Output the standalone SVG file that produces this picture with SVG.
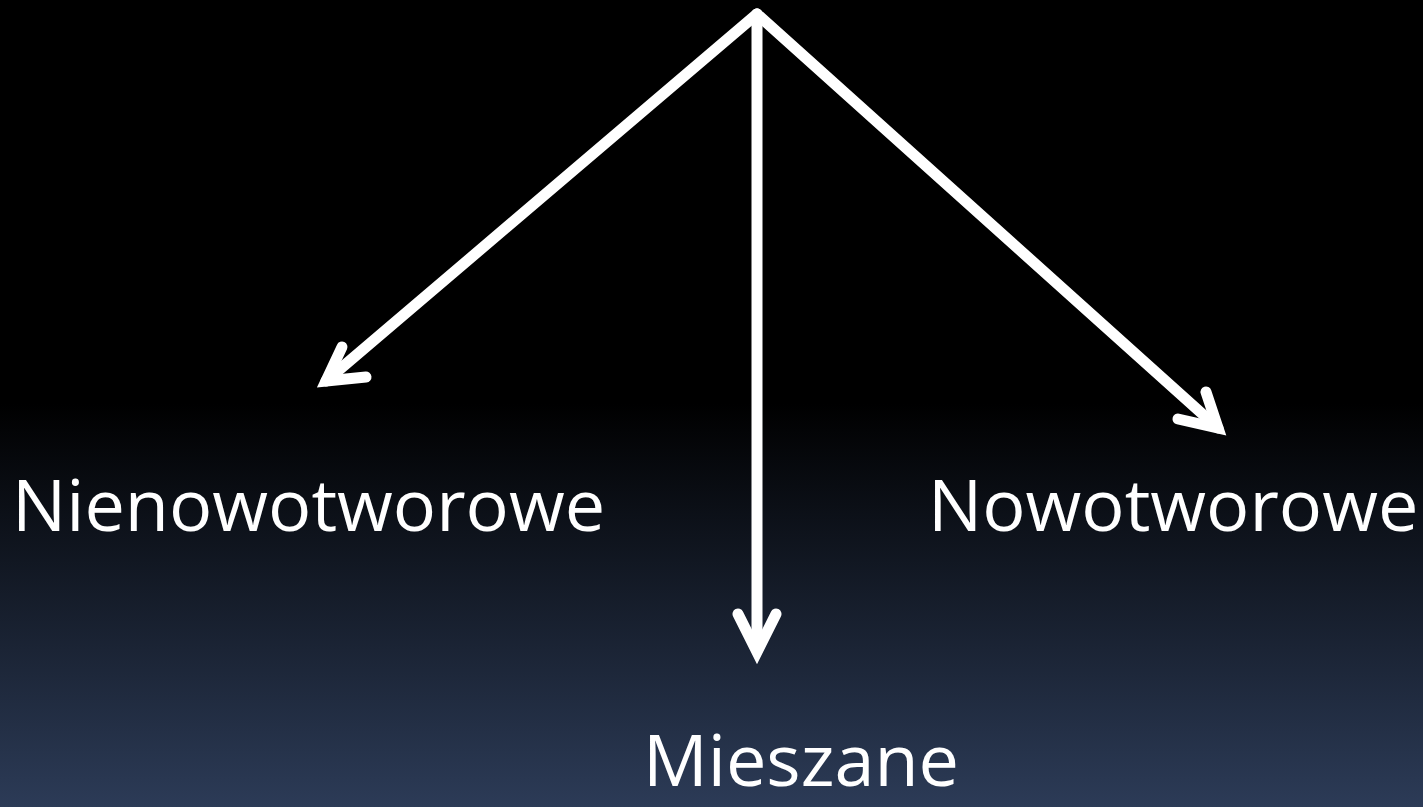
<svg xmlns="http://www.w3.org/2000/svg" width="1423" height="807" viewBox="0 0 1423 807">
<defs>
<linearGradient id="bg" x1="0" y1="0" x2="0" y2="1">
<stop offset="0" stop-color="#000000"/>
<stop offset="0.5" stop-color="#000000"/>
<stop offset="1" stop-color="#2c3b57"/>
</linearGradient>
<style>
.arrow{fill:none;stroke:#ffffff;stroke-width:11;stroke-linecap:round;stroke-linejoin:miter;stroke-miterlimit:10}
.lbl{font-family:"Open Sans","Noto Sans",sans-serif;font-size:72px;fill:#ffffff}
</style>
</defs>
<rect x="0" y="0" width="1423" height="807" fill="url(#bg)"/>
<g id="connectors">
<path class="arrow" d="M757,14 L326,381"/>
<path class="arrow" d="M342,347 L326,381 L366,377"/>
<path class="arrow" d="M757,14 L757,650"/>
<path class="arrow" d="M738,614 L757,652 L776,614"/>
<path class="arrow" d="M757,14 L1218,428"/>
<path class="arrow" d="M1206,392 L1218,428 L1178,419"/>
</g>
<g id="node-nienowotworowe"><text class="lbl" x="12" y="531">Nienowotworowe</text></g>
<g id="node-nowotworowe"><text class="lbl" x="928" y="531" font-size="71">Nowotworowe</text></g>
<g id="node-mieszane"><text class="lbl" x="643" y="786" font-size="70">Mieszane</text></g>
</svg>
